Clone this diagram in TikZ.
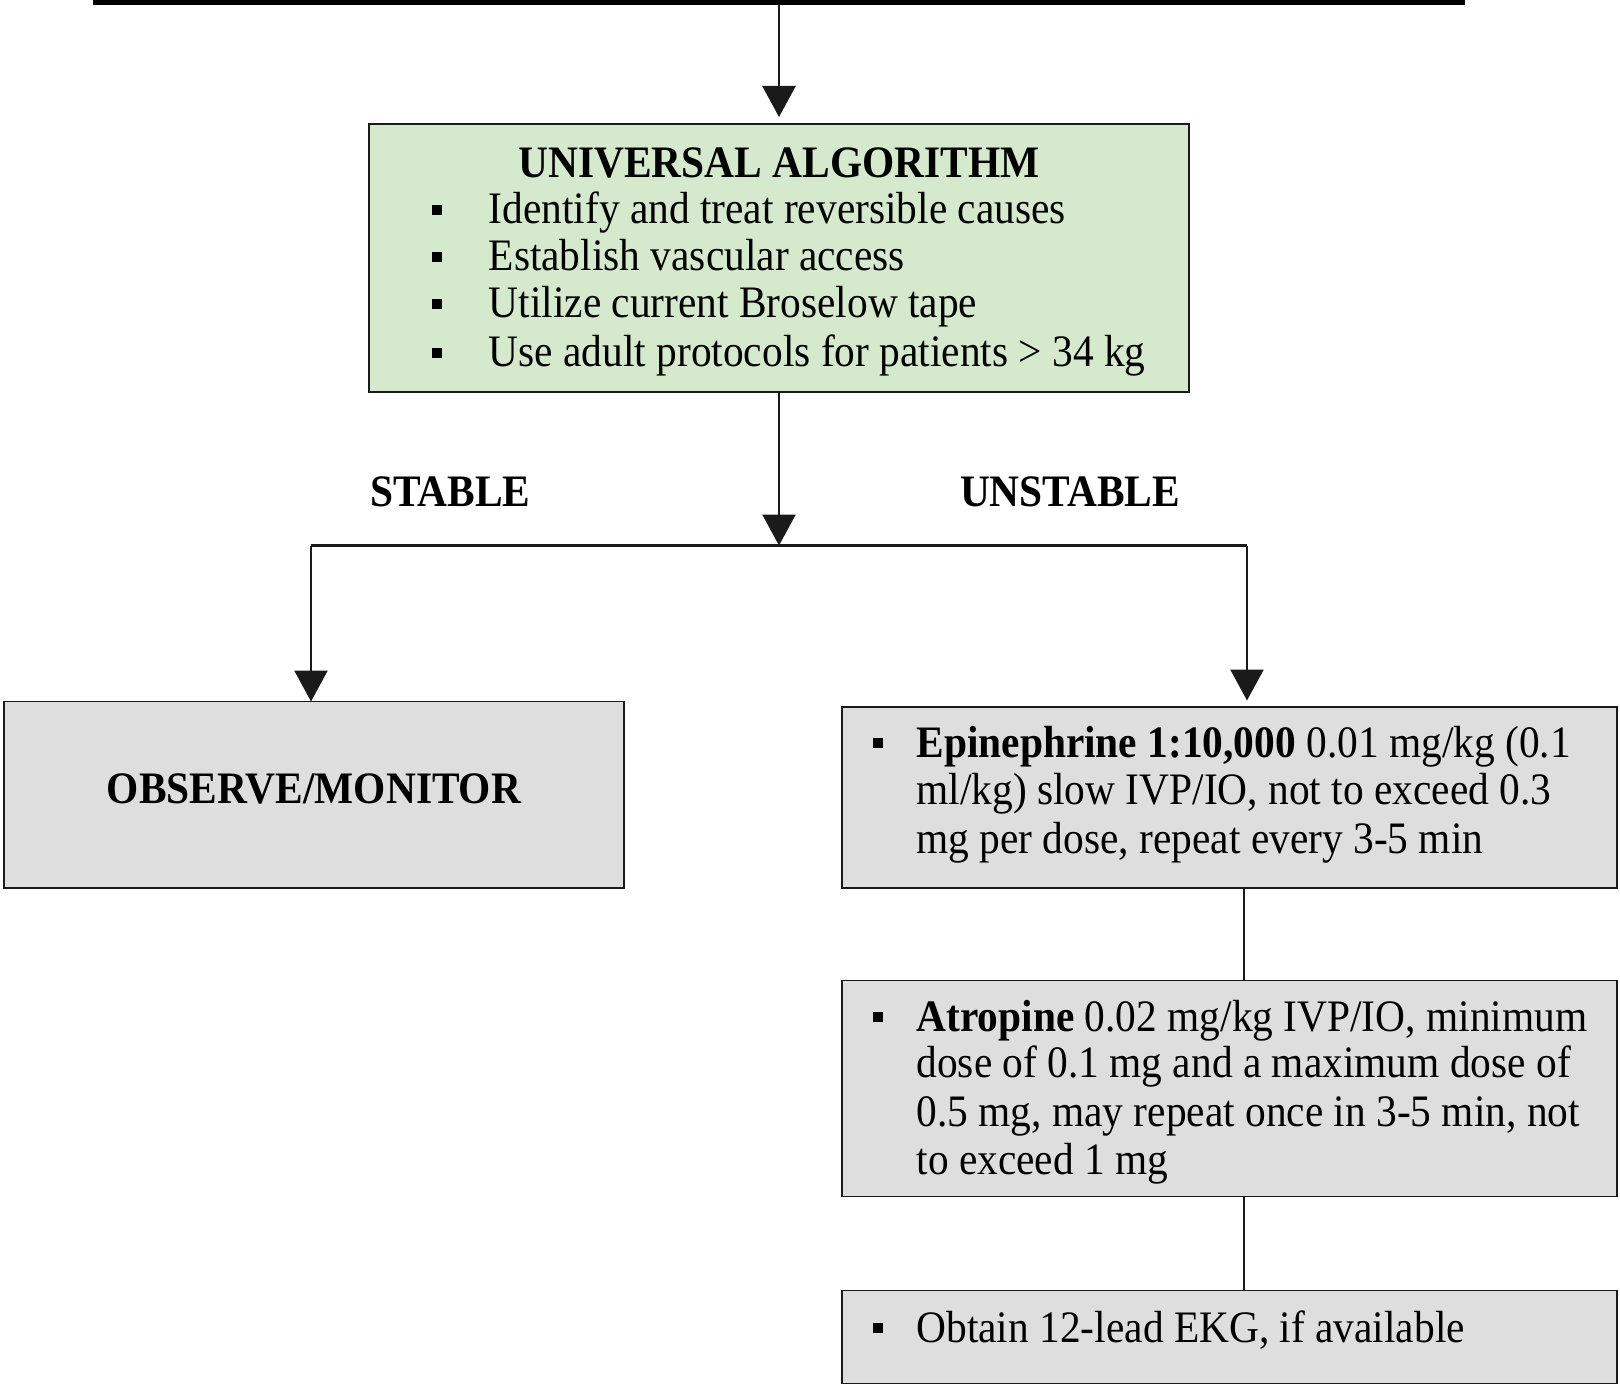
\documentclass[tikz,border=0pt]{standalone}
\usepackage{fontspec}
\setmainfont{Liberation Serif}[FakeStretch=0.92]
\usetikzlibrary{arrows.meta}
\definecolor{boxgreen}{HTML}{D5EACC}
\definecolor{boxgrey}{HTML}{DEDEDE}
\definecolor{edgec}{HTML}{1A1A1A}
\begin{document}
\begin{tikzpicture}[x=1pt,y=-1pt,
  box/.style={draw=edgec,line width=1.6pt,inner sep=0pt,outer sep=0pt},
  txt/.style={anchor=base west,inner sep=0pt,outer sep=0pt,text=black,font=\fontsize{45}{47.6}\selectfont},
  ttl/.style={anchor=base,inner sep=0pt,outer sep=0pt,text=black,font=\fontsize{45}{47.6}\selectfont\bfseries},
  bsq/.style={fill=black,minimum size=10pt,inner sep=0pt,outer sep=0pt},
  conn/.style={draw=edgec,line width=2.5pt},
  arr/.style={conn,-{Triangle[length=31pt,width=33pt]}}]
\useasboundingbox (0,0) rectangle (1620,1396);
% top bar
\node[fill=black,minimum width=1372pt,minimum height=5pt,inner sep=0pt,outer sep=0pt] (bar) at (779,2.5) {};
% boxes
\node[box,fill=boxgreen,minimum width=820pt,minimum height=268pt] (univ) at (779,258) {};
\node[box,fill=boxgrey,minimum width=620pt,minimum height=186.5pt] (obs) at (314,794.75) {};
\node[box,fill=boxgrey,minimum width=775pt,minimum height=181pt] (epi) at (1229.5,797.5) {};
\node[box,fill=boxgrey,minimum width=775pt,minimum height=216pt] (atr) at (1229.5,1088.5) {};
\node[box,fill=boxgrey,minimum width=775pt,minimum height=93pt] (ekg) at (1229.5,1337) {};
% universal text
\node[ttl] (univT) at (779,177.7) {UNIVERSAL ALGORITHM};
\node[bsq] (ub1) at (437,210) {};
\node[txt] (u1) at (488.7,224) {Identify and treat reversible causes};
\node[bsq] (ub2) at (437,256.7) {};
\node[txt] (u2) at (488.7,270.7) {Establish vascular access};
\node[bsq] (ub3) at (437,304) {};
\node[txt] (u3) at (488.7,318) {Utilize current Broselow tape};
\node[bsq] (ub4) at (437,352.8) {};
\node[txt] (u4) at (488.7,366.8) {Use adult protocols for patients > 34 kg};
% branch labels
\node[ttl,anchor=base west] (stab) at (370,506) {STABLE};
\node[ttl,anchor=base west] (unstab) at (960,506) {UNSTABLE};
% observe
\node[ttl] (obsT) at (314,803) {OBSERVE/MONITOR};
% epinephrine
\node[bsq] (eb) at (878,743.3) {};
\node[txt] (e1) at (916.5,757.3) {\textbf{Epinephrine 1:10,000} 0.01 mg/kg (0.1};
\node[txt] (e2) at (916.5,804.9) {ml/kg) slow IVP/IO, not to exceed 0.3};
\node[txt] (e3) at (916.5,853.4) {mg per dose, repeat every 3-5 min};
% atropine
\node[bsq] (ab) at (878,1017) {};
\node[txt] (a1) at (916.5,1031) {\textbf{Atropine} 0.02 mg/kg IVP/IO, minimum};
\node[txt] (a2) at (916.5,1077.6) {dose of 0.1 mg and a maximum dose of};
\node[txt] (a3) at (916.5,1126.2) {0.5 mg, may repeat once in 3-5 min, not};
\node[txt] (a4) at (916.5,1174.7) {to exceed 1 mg};
% ekg
\node[bsq] (kb) at (878,1328) {};
\node[txt] (k1) at (916.5,1342) {Obtain 12-lead EKG, if available};
% connectors
\coordinate (jc) at (779,545.5);
\coordinate (jl) at (311,545.5);
\coordinate (jr) at (1247,545.5);
\coordinate (cx) at (1244,0);
\draw[arr,shorten >=7pt] (bar.south) -- (univ.north);
\draw[arr] (univ.south) -- (jc);
\draw[conn] (jl) -- (jr);
\draw[arr] (jl) -- (jl |- obs.north);
\draw[arr,shorten >=6.5pt] (jr) -- (jr |- epi.north);
\draw[conn] (epi.south -| cx) -- (atr.north -| cx);
\draw[conn] (atr.south -| cx) -- (ekg.north -| cx);
\end{tikzpicture}
\end{document}
